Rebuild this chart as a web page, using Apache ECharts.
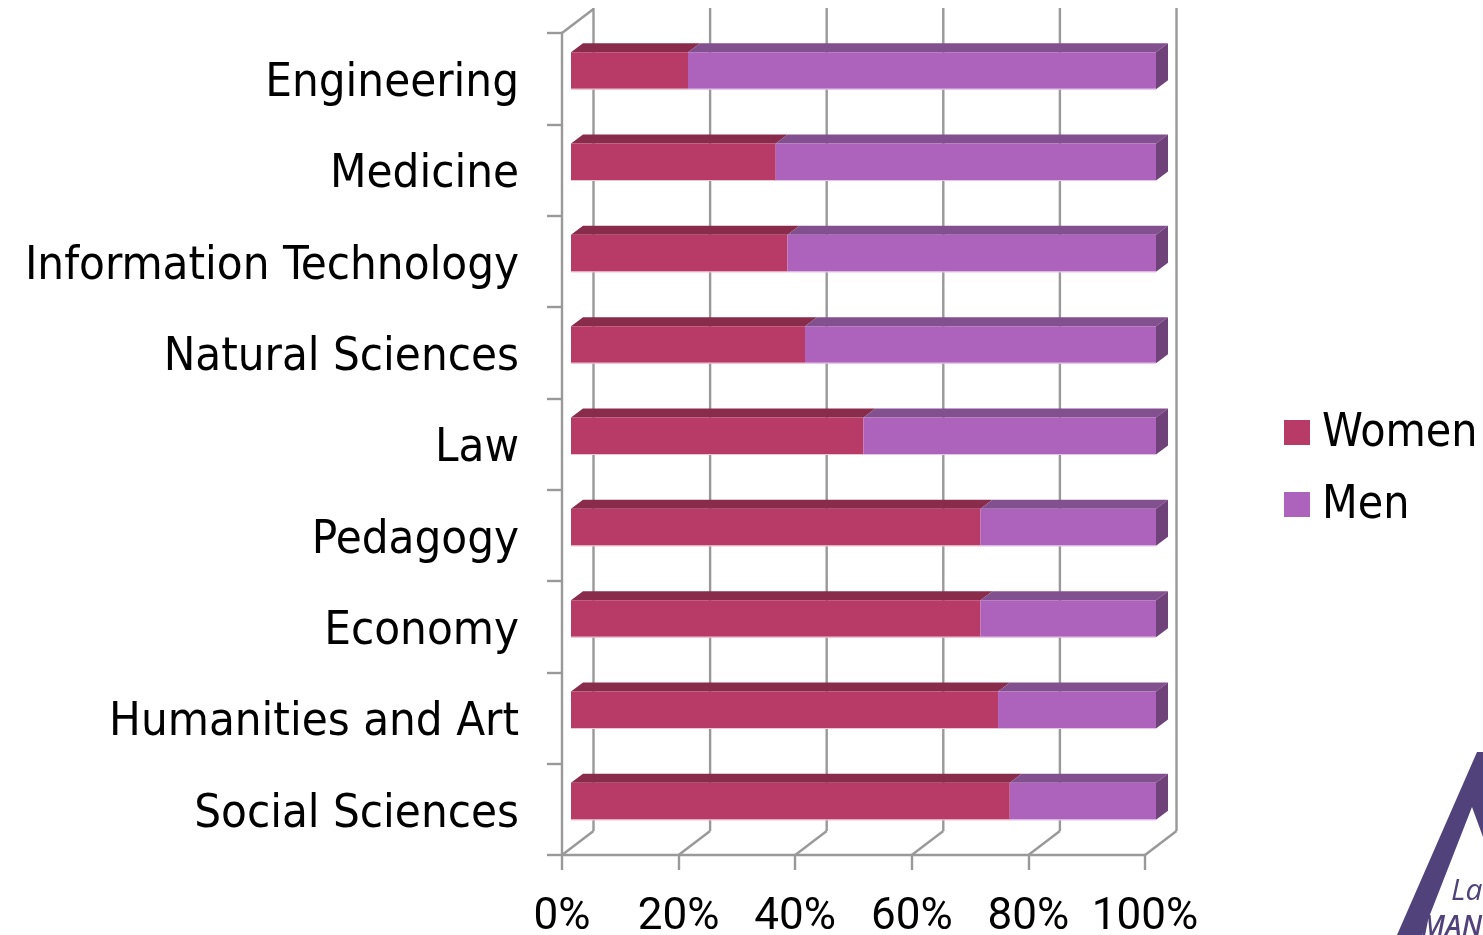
<!DOCTYPE html>
<html><head><meta charset="utf-8">
<style>html,body{margin:0;padding:0;background:#fff;overflow:hidden}#c{width:1483px;height:935px}</style>
<script src="https://cdn.jsdelivr.net/npm/echarts@6/dist/echarts.min.js"></script>
</head><body><div id="c"></div>
<script>
const categories = ['Engineering','Medicine','Information Technology','Natural Sciences','Law','Pedagogy','Economy','Humanities and Art','Social Sciences'];
const women = [20,35,37,40,50,70,70,73,75];
const men = [80,65,63,60,50,30,30,27,25];
const tickValues = [0,20,40,60,80,100];
const FONT = '"DejaVu Sans Condensed"';
const NUMFONT = 'Roboto';
const WALL = '#999999';

const chart = echarts.init(document.getElementById('c'), null, {renderer:'canvas'});

function wallItem(params, api){
  const v = api.value(0);
  const cs = params.coordSys;
  const x = api.coord([v,0])[0];
  const top = cs.y, bottom = cs.y + cs.height;
  const dx = 31.5, dy = 24;
  const style = {stroke:WALL, lineWidth:2.4, fill:null};
  const kids = [
    {type:'line', shape:{x1:x,y1:bottom,x2:x+dx,y2:bottom-dy}, style},
    {type:'line', shape:{x1:x+dx,y1:top-dy-1,x2:x+dx,y2:bottom-dy}, style}
  ];
  if (v === 0) kids.push({type:'line', shape:{x1:x,y1:top,x2:x+dx,y2:top-dy}, style});
  return {type:'group', children:kids};
}
function barItem(showSide, top, side){
  return function(params, api){
    const c0 = api.coord([api.value(0), api.value(2)]);
    const c1 = api.coord([api.value(1), api.value(2)]);
    const h = 37, dx = 12, dy = 9;
    const y0 = c0[1]-h/2, y1 = c0[1]+h/2, x0 = c0[0], x1 = c1[0];
    const color = api.visual('color');
    const kids = [
      {type:'polygon', shape:{points:[[x0,y0],[x1,y0],[x1+dx,y0-dy],[x0+dx,y0-dy]]}, style:{fill:top}},
      {type:'rect', shape:{x:x0,y:y0,width:x1-x0,height:h}, style:{fill:color}},
      {type:'line', shape:{x1:x0,y1:y1,x2:x1,y2:y1}, style:{stroke:showSide?'#e3c4ea':'#eec3d2',lineWidth:1.2}}
    ];
    if (showSide) kids.push({type:'polygon', shape:{points:[[x1,y0],[x1+dx,y0-dy],[x1+dx,y1-dy],[x1,y1]]}, style:{fill:side}});
    return {type:'group', children:kids};
  };
}

chart.setOption({
  animation:false,
  backgroundColor:'#fff',
  textStyle:{fontFamily:FONT},
  grid:[
    {left:562, width:583, top:33, height:822, outerBoundsMode:'none'},
    {left:571, width:585, top:25, height:822, outerBoundsMode:'none'}
  ],
  xAxis:[
    {type:'value', gridIndex:0, min:0, max:100, interval:20,
     axisLine:{show:true,lineStyle:{color:WALL,width:2.4}},
     axisTick:{show:true,length:15,lineStyle:{color:WALL,width:2.4}},
     splitLine:{show:false},
     axisLabel:{fontFamily:NUMFONT,fontSize:44,color:'#000',margin:41,formatter:'{value}%'}},
    {type:'value', gridIndex:1, min:0, max:100, show:false}
  ],
  yAxis:[
    {type:'category', gridIndex:0, inverse:true, data:categories,
     axisLine:{show:true,lineStyle:{color:WALL,width:2.4}},
     axisTick:{show:true,length:15,alignWithLabel:false,lineStyle:{color:WALL,width:2.4}},
     axisLabel:{margin:43, formatter:v=>'{t|'+v+'}',
       rich:{t:{fontFamily:FONT,fontSize:47,color:'#000',lineHeight:48,padding:[10,0,0,0]}}}},
    {type:'category', gridIndex:1, inverse:true, data:categories, show:false}
  ],
  legend:{
    orient:'vertical', left:1279, top:403, icon:'rect', itemWidth:26, itemHeight:25, itemGap:23,
    data:['Women','Men'], selectedMode:false, formatter:'{t|{name}}',
    textStyle:{rich:{t:{fontFamily:FONT,fontSize:46,color:'#000',lineHeight:48,padding:[3,0,0,7]}}}
  },
  series:[
    {type:'custom', name:'walls', xAxisIndex:0, yAxisIndex:0, z:1, silent:true,
     data:tickValues.map(v=>[v,0]), encode:{x:0,y:1}, renderItem:wallItem},
    {type:'custom', name:'Women', xAxisIndex:1, yAxisIndex:1, z:2, itemStyle:{color:'#B83A66'},
     data:women.map((w,i)=>[0,w,i]), encode:{x:[0,1],y:2},
     renderItem:barItem(false,'#892C4C',null)},
    {type:'custom', name:'Men', xAxisIndex:1, yAxisIndex:1, z:3, itemStyle:{color:'#AD63BB'},
     data:men.map((m,i)=>[women[i],women[i]+m,i]), encode:{x:[0,1],y:2},
     renderItem:barItem(true,'#83508F','#6F4279')}
  ],
  graphic:[
    {type:'polygon', silent:true, z:5, shape:{points:[[1477,752],[1483,752],[1483,837],[1472,807],[1422,935],[1397,935]]}, style:{fill:'#52427C'}},
    {type:'text', silent:true, z:5, x:1451, y:876, style:{text:'La',font:'italic 30px "Open Sans"',fill:'#52427C'}},
    {type:'text', silent:true, z:5, x:1421, y:914, style:{text:'MANO',font:'italic 600 28px "Open Sans"',fill:'#52427C'}}
  ]
});
</script></body></html>
